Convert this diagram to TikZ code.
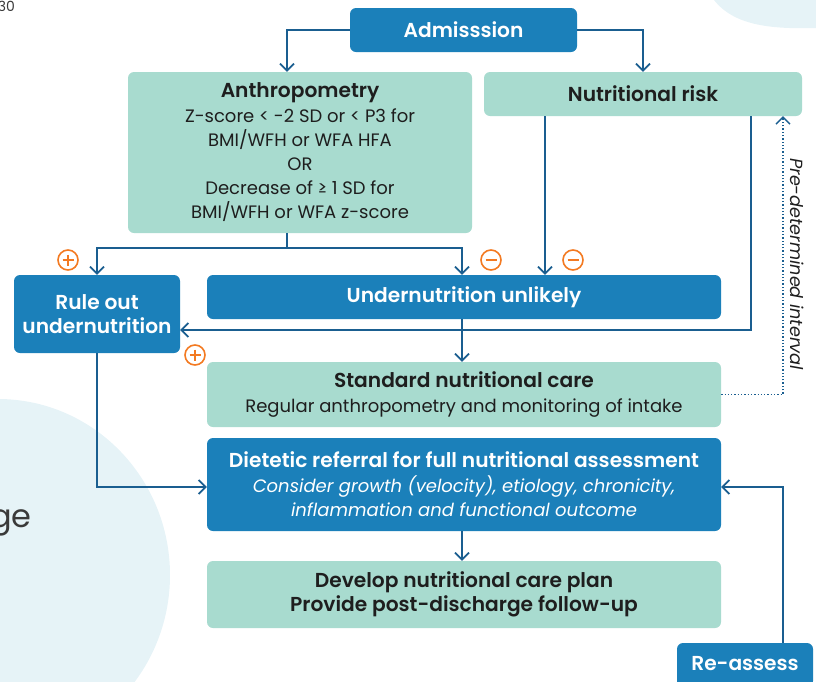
\documentclass[tikz,border=0pt]{standalone}
\usepackage{fontspec}
\setmainfont{Poppins}[BoldFont={Poppins SemiBold}]
\usetikzlibrary{arrows.meta,calc}
\definecolor{dblue}{HTML}{1B80BA}
\definecolor{lgreen}{HTML}{A8DBCF}
\definecolor{linec}{HTML}{1A5E90}
\definecolor{orng}{HTML}{F37A22}
\definecolor{bgblue}{HTML}{E6F3F7}
\definecolor{txt}{HTML}{1E1E1E}
\definecolor{greytxt}{HTML}{3A3A3A}
\newcommand{\bfsz}{\fontsize{20.2}{24.5}\selectfont\bfseries}
\newcommand{\rgsz}{\fontsize{18}{24.2}\selectfont}
\tikzset{
  box/.style={rectangle, rounded corners=6pt, inner sep=0pt, align=center},
  bluebox/.style={box, fill=dblue, text=white, font=\bfsz},
  greenbox/.style={box, fill=lgreen, text=txt, font=\rgsz},
  arr/.style={draw=linec, line width=1.7pt, -{Straight Barb[length=7pt,width=14pt]}},
  dotarr/.style={draw=linec, line width=1.3pt, dotted, -{Straight Barb[length=7pt,width=14pt,line width=1.3pt]}},
  sign/.style={circle, draw=orng, line width=1.6pt, minimum size=20pt, inner sep=0pt},
  plussign/.style={sign, path picture={
      \draw[orng, line width=1.6pt] ($(path picture bounding box.center)+(-5.5,0)$) -- +(11,0);
      \draw[orng, line width=1.6pt] ($(path picture bounding box.center)+(0,-5.5)$) -- +(0,11);}},
  minussign/.style={sign, path picture={
      \draw[orng, line width=1.6pt] ($(path picture bounding box.center)+(-5.5,0)$) -- +(11,0);}}
}
\begin{document}
\begin{tikzpicture}[x=1pt,y=-1pt]
\useasboundingbox (0,0) rectangle (816,681);
\clip (0,0) rectangle (816,681);
% background blobs
\fill[bgblue] (-2,575) ellipse [x radius=172, y radius=176];
\fill[bgblue] (714,0) .. controls (735,27) and (775,29) .. (816,28) -- (816,0) -- cycle;
\node[anchor=base east, font=\fontsize{32}{32}\selectfont, text=greytxt, inner sep=0pt] (ge) at (32,527) {ge};
\node[anchor=base east, font=\fontsize{14}{14}\selectfont, text=greytxt, inner sep=0pt] (pg) at (15,11) {30};

% nodes
\node[bluebox, minimum width=227pt, minimum height=44pt] (adm) at (463.5,30) {Admisssion};
\node[greenbox, minimum width=318pt, minimum height=44pt, font=\bfsz] (nr) at (643,94) {Nutritional risk};
\node[greenbox, minimum width=344pt, minimum height=161pt] (anth) at (300,152.5)
  {{\bfsz Anthropometry}\\Z-score < -2 SD or < P3 for\\BMI/WFH or WFA HFA\\OR\\Decrease of ≥ 1 SD for\\BMI/WFH or WFA z-score};
\node[bluebox, minimum width=166pt, minimum height=78pt] (rule) at (97,314) {Rule out\\undernutrition};
\node[bluebox, minimum width=514pt, minimum height=44pt] (unl) at (464,297) {Undernutrition unlikely};
\node[greenbox, minimum width=514pt, minimum height=65pt] (std) at (464,394.5)
  {{\bfsz Standard nutritional care}\\Regular anthropometry and monitoring of intake};
\node[bluebox, minimum width=514pt, minimum height=93pt] (diet) at (464,484.5)
  {Dietetic referral for full nutritional assessment\\
   {\rgsz\mdseries\itshape Consider growth (velocity), etiology, chronicity,}\\
   {\rgsz\mdseries\itshape inflammation and functional outcome}};
\node[greenbox, minimum width=514pt, minimum height=67pt, font=\bfsz] (dev) at (464,594.5)
  {Develop nutritional care plan\\Provide post-discharge follow-up};
\node[bluebox, minimum width=136pt, minimum height=44pt] (re) at (745,665) {\raisebox{2.5pt}{Re-assess}};

% signs
\node[plussign] (p1) at (68,260) {};
\node[plussign] (p2) at (195,355) {};
\node[minussign] (m1) at (491,260) {};
\node[minussign] (m2) at (573,260) {};

% helper coordinates
\coordinate (j1) at (287,248);
\coordinate (x545) at (545,0);
\coordinate (x643) at (643,0);
\coordinate (x783) at (783,0);
\coordinate (x462) at (462,0);
\coordinate (x751) at (751,0);

% connectors
\draw[arr] (adm.west) -| (anth.north -| j1);
\draw[arr] (adm.east) -| (nr.north -| x643);
\draw[draw=linec, line width=1.7pt] (anth.south -| j1) -- (j1);
\draw[arr] (j1) -| (rule.north);
\draw[arr] (j1) -| (unl.north -| x462);
\draw[arr] (nr.south -| x545) -- (unl.north -| x545);
\draw[arr] (nr.south -| x751) |- ($(rule.east)+(0,16)$);
\draw[arr] (unl.south -| x462) -- (std.north -| x462);
\draw[arr] (rule.south) |- ($(diet.west)+(0,2.5)$);
\draw[arr] (diet.south -| x462) -- (dev.north -| x462);
\draw[arr] (re.north -| x783) |- ($(diet.east)+(0,2.5)$);
\draw[dotarr] (std.east) -| (nr.south -| x783);

\node[rotate=-90, font=\fontsize{17.6}{18}\selectfont\itshape, text=txt] (lbl) at (797,264) {Pre-determined interval};
\end{tikzpicture}
\end{document}
